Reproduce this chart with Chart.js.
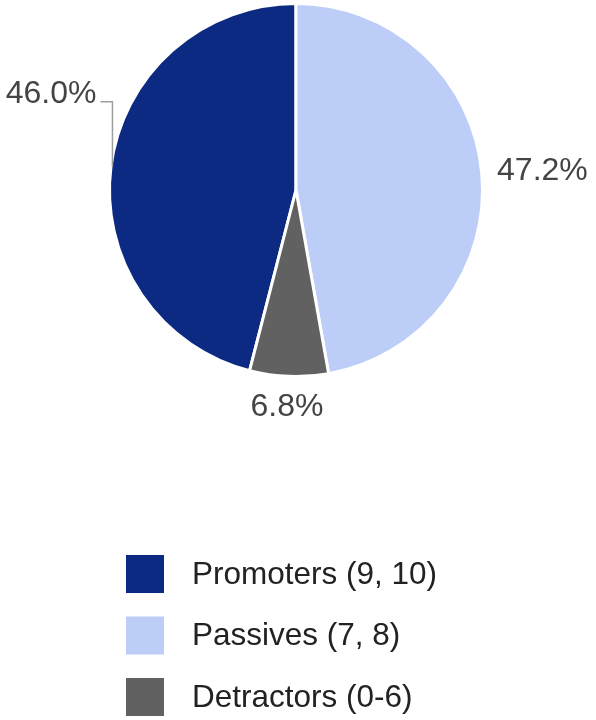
<!DOCTYPE html>
<html>
<head>
<meta charset="utf-8">
<script src="https://cdn.jsdelivr.net/npm/chart.js@4"></script>
<style>
  html, body { margin: 0; padding: 0; background: #fff; }
  canvas { display: block; }
</style>
</head>
<body>
<canvas id="npsChart" width="596" height="720"></canvas>
<script>
const categories = ['Promoters (9, 10)', 'Passives (7, 8)', 'Detractors (0-6)'];
const shares = [46.0, 47.2, 6.8];
const colors = ['#0c2a82', '#bccdf7', '#616161'];

const total = shares.reduce((a, b) => a + b, 0);
const borderW = 3;

// percentage labels around the pie, first one pulled up on a leader line
const sliceLabels = {
  id: 'sliceLabels',
  afterDatasetsDraw(chart, args, opts) {
    const ctx = chart.ctx;
    const meta = chart.getDatasetMeta(0);
    ctx.save();
    ctx.font = opts.font;
    ctx.fillStyle = opts.color;
    meta.data.forEach((arc, i) => {
      const p = arc.getProps(['x', 'y', 'startAngle', 'endAngle', 'outerRadius'], true);
      const mid = (p.startAngle + p.endAngle) / 2;
      const r = p.outerRadius - borderW / 2;
      const cos = Math.cos(mid), sin = Math.sin(mid);
      const text = (shares[i] / total * 100).toFixed(1) + '%';
      const w = ctx.measureText(text).width;
      if (opts.leaderRise[i]) {
        const sx = p.x + r * cos, sy = p.y + r * sin;
        const ty = sy - opts.leaderRise[i];
        const tx = sx - opts.leaderRun;
        ctx.strokeStyle = opts.leaderColor;
        ctx.lineWidth = 1.5;
        ctx.beginPath();
        ctx.moveTo(sx, sy);
        ctx.lineTo(sx, ty);
        ctx.lineTo(tx, ty);
        ctx.stroke();
        ctx.textAlign = 'right';
        ctx.textBaseline = 'alphabetic';
        ctx.fillText(text, tx - 4, ty + 1);
      } else {
        const ax = p.x + (r + opts.gap) * cos;
        const ay = p.y + (r + opts.gap) * sin;
        ctx.textAlign = 'center';
        ctx.textBaseline = 'middle';
        ctx.fillText(text, ax + w / 2 * cos, ay + 15 * sin);
      }
    });
    ctx.restore();
  }
};

// stacked legend under the pie, left aligned
const listLegend = {
  id: 'listLegend',
  afterDraw(chart, args, opts) {
    const ctx = chart.ctx;
    const ds = chart.data.datasets[0];
    ctx.save();
    ctx.font = opts.font;
    ctx.textAlign = 'left';
    ctx.textBaseline = 'middle';
    chart.data.labels.forEach((lab, i) => {
      const top = chart.height - opts.fromBottom + i * opts.rowGap;
      ctx.fillStyle = ds.backgroundColor[i];
      ctx.fillRect(opts.left, top, opts.box, opts.box);
      ctx.fillStyle = opts.color;
      ctx.fillText(lab, opts.left + opts.box + 28, top + opts.box / 2 + 1);
    });
    ctx.restore();
  }
};

new Chart(document.getElementById('npsChart'), {
  type: 'pie',
  data: {
    labels: categories,
    datasets: [{
      data: shares,
      backgroundColor: colors,
      borderColor: '#ffffff',
      borderWidth: borderW
    }]
  },
  options: {
    responsive: false,
    animation: false,
    devicePixelRatio: 1,
    rotation: -shares[0] / total * 360,
    layout: { padding: { top: 2, bottom: 342, left: 108, right: 112 } },
    plugins: {
      legend: { display: false },
      tooltip: { enabled: false },
      sliceLabels: {
        font: '32px "Liberation Sans", Arial, sans-serif',
        color: '#444444',
        gap: 17,
        leaderRise: [65, 0, 0],
        leaderRun: 12,
        leaderColor: '#9e9e9e'
      },
      listLegend: {
        font: '31.5px "Liberation Sans", Arial, sans-serif',
        color: '#222222',
        left: 126,
        box: 38,
        fromBottom: 165,
        rowGap: 61.5
      }
    }
  },
  plugins: [sliceLabels, listLegend]
});
</script>
</body>
</html>
